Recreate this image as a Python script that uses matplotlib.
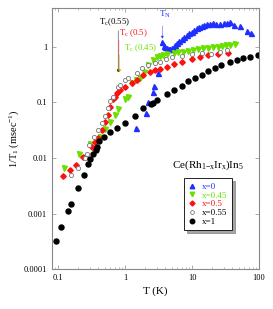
import numpy as np
import matplotlib
matplotlib.use("Agg")
import matplotlib.pyplot as plt

plt.rcParams['font.family'] = ['Liberation Serif', 'DejaVu Serif']
plt.rcParams['mathtext.fontset'] = 'custom'
plt.rcParams['mathtext.rm'] = 'Liberation Serif'
plt.rcParams['mathtext.it'] = 'Liberation Serif'

# x=0 (blue triangles)
T0 = [1.46, 2.03, 2.2, 2.6, 2.74, 3.15, 3.6, 3.8, 4.0, 4.2, 4.5, 4.7, 5.0, 5.3, 5.6, 5.9, 6.4, 7.0, 7.6, 8.4,
      9.1, 9.9, 10.8, 11.8, 12.8, 13.9, 15.2, 16.6, 18.5, 20.8, 23.0, 26.1, 29.5, 33, 37, 41.6, 52, 65.6, 77]
R0 = [0.035, 0.065, 0.10, 0.156, 0.2, 0.34, 1.2, 1.05, 1.0, 0.95, 0.93, 0.91, 0.95, 1.0, 1.08, 1.17, 1.25, 1.37, 1.5, 1.64,
      1.75, 1.88, 2.0, 2.17, 2.3, 2.4, 2.5, 2.6, 2.6, 2.67, 2.6, 2.6, 2.65, 2.74, 2.86, 2.5, 2.4, 1.97, 1.76]

# x=0.45 (green inverted triangles)
T45 = [0.124, 0.206, 0.30, 0.42, 0.50, 0.60, 0.71, 0.79, 1.0, 1.12, 1.25, 1.45, 1.67, 1.9, 2.2, 2.65, 2.97, 3.3, 3.7,
       4.3, 5.3, 6.2, 7.4, 8.7, 10.4, 12.3, 14.7, 17.5, 20.8, 24, 27.6, 32, 36.5, 43.8]
R45 = [0.0065, 0.0118, 0.018, 0.024, 0.033, 0.045, 0.06, 0.075, 0.114, 0.127, 0.22, 0.25, 0.27, 0.36, 0.47, 0.58, 0.65, 0.69, 0.72,
       0.74, 0.77, 0.8, 0.82, 0.85, 0.88, 0.91, 0.95, 0.97, 0.99, 1.01, 1.04, 1.06, 1.09, 1.12]

# x=0.5 (red diamonds)
T50 = [0.117, 0.151, 0.184, 0.239, 0.318, 0.356, 0.39, 0.45, 0.50, 0.55, 0.60, 0.67, 0.71, 0.75, 0.84, 1.0, 1.25, 1.5,
       1.88, 2.37, 2.8, 3.3, 4.2, 5.3, 7.0, 9.9, 13.2, 17.5, 24.6, 34.8]
R50 = [0.0047, 0.0061, 0.0075, 0.0103, 0.016, 0.0197, 0.0226, 0.032, 0.045, 0.06, 0.084, 0.114, 0.127, 0.146, 0.168, 0.193, 0.22, 0.25,
       0.31, 0.36, 0.385, 0.40, 0.44, 0.49, 0.54, 0.60, 0.65, 0.70, 0.75, 0.79]

# x=0.55 (open circles)
T55 = [0.155, 0.2, 0.253, 0.27, 0.293, 0.35, 0.39, 0.45, 0.5, 0.56, 0.6, 0.67, 0.79, 0.84, 1.0, 1.12, 1.5, 1.77, 2.2, 2.8,
       3.3, 4.1, 5.0, 7.0, 9.9, 13.9, 19.5, 26.1, 33]
R55 = [0.0049, 0.0065, 0.0099, 0.0118, 0.017, 0.024, 0.032, 0.043, 0.057, 0.079, 0.104, 0.127, 0.193, 0.207, 0.255, 0.27, 0.345, 0.41, 0.47, 0.51,
       0.54, 0.6, 0.65, 0.69, 0.75, 0.79, 0.75, 0.82, 0.88]

# x=1 (black circles)
T1 = [0.092, 0.111, 0.141, 0.156, 0.197, 0.245, 0.283, 0.30, 0.336, 0.37, 0.378, 0.41, 0.49, 0.6, 0.75, 1.0, 1.41, 1.88,
      2.4, 2.6, 2.97, 4.2, 5.3, 7.0, 8.8, 11.1, 13.9, 17.5, 21.9, 27.5, 36.5, 46.6, 58, 73, 97]
R1 = [0.00032, 0.00058, 0.00112, 0.0015, 0.0029, 0.0049, 0.0078, 0.0096, 0.0118, 0.0139, 0.016, 0.0205, 0.024, 0.029, 0.034, 0.043, 0.057, 0.078,
      0.094, 0.099, 0.11, 0.14, 0.17, 0.2, 0.24, 0.27, 0.31, 0.37, 0.41, 0.47, 0.53, 0.58, 0.63, 0.67, 0.72]

blue = '#1f2fff'
green = '#6ae000'
red = '#ff1010'

fig = plt.figure(figsize=(2.73, 3.09), dpi=100)
ax = fig.add_axes([0.19, 0.129, 0.759, 0.845])

ax.plot(T0, R0, '^', color=blue, ms=3.6, mec=blue, label='x=0')
ax.plot(T45, R45, 'v', color=green, ms=3.6, mec=green, label='x=0.45')
ax.plot(T50, R50, 'D', color=red, ms=2.8, mec=red, label='x=0.5')
ax.plot(T55, R55, 'o', mfc='white', mec='#777777', mew=0.6, ms=3.0, label='x=0.55')
ax.plot(T1, R1, 'o', color='black', ms=3.6, label='x=1')

ax.set_xscale('log')
ax.set_yscale('log')
ax.set_xlim(0.081, 100)
ax.set_ylim(0.0001, 5)
ax.set_xticks([0.1, 1, 10, 100])
ax.set_xticklabels(['0.1', '1', '10', '100'])
ax.set_yticks([0.0001, 0.001, 0.01, 0.1, 1])
ax.set_yticklabels(['0.0001', '0.001', '0.01', '0.1', '1'])
ax.tick_params(which='both', direction='in', top=True, right=True, labelsize=6, color='#888888')
ax.tick_params(which='major', length=3, width=0.5)
ax.tick_params(which='minor', length=1.5, width=0.4)
ax.yaxis.set_minor_locator(matplotlib.ticker.NullLocator())
for s in ax.spines.values():
    s.set_color('#888888')
    s.set_linewidth(0.8)

ax.set_xlabel('T (K)', fontsize=8, labelpad=3)
ax.set_ylabel('1/T$_1$ (msec$^{-1}$)', fontsize=7.5, labelpad=2)

# Tc markers
ax.annotate('', xy=(0.79, 0.31), xytext=(0.79, 2.2),
            arrowprops=dict(arrowstyle='-|>', color='black', lw=0.3, mutation_scale=4))
ax.annotate('', xy=(0.81, 0.31), xytext=(0.81, 1.5),
            arrowprops=dict(arrowstyle='-|>', color=red, lw=0.3, mutation_scale=4))
ax.annotate('', xy=(0.83, 0.31), xytext=(0.83, 0.8),
            arrowprops=dict(arrowstyle='-|>', color=green, lw=0.3, mutation_scale=4))
ax.text(0.41, 2.2, 'T$_c$(0.55)', fontsize=6.3, color='black', va='bottom')
ax.text(0.82, 1.4, 'T$_c$ (0.5)', fontsize=6.3, color=red, va='bottom')
ax.text(0.98, 0.75, 'T$_c$ (0.45)', fontsize=6.3, color=green, va='bottom')

# TN marker
ax.annotate('', xy=(3.6, 1.25), xytext=(3.6, 2.7),
            arrowprops=dict(arrowstyle='-|>', color=blue, lw=0.3, mutation_scale=4))
ax.text(3.2, 3.0, 'T$_\\mathrm{N}$', fontsize=6.5, color=blue, va='bottom')

ax.text(5.0, 0.0075, 'Ce(Rh$_{1\\mathrm{-}x}$Ir$_x$)In$_5$', fontsize=8, va='center')

leg = ax.legend(loc='upper left', bbox_to_anchor=(0.615, 0.365), fontsize=6.5, frameon=True, fancybox=False,
                shadow=True, edgecolor='black', handlelength=1.0, handletextpad=0.6, borderpad=0.45,
                labelspacing=0.05, markerscale=0.9)
leg.get_frame().set_linewidth(0.6)
for txt, c in zip(leg.get_texts(), [blue, green, red, 'black', 'black']):
    txt.set_color(c)

fig.savefig('out.png', dpi=100)
